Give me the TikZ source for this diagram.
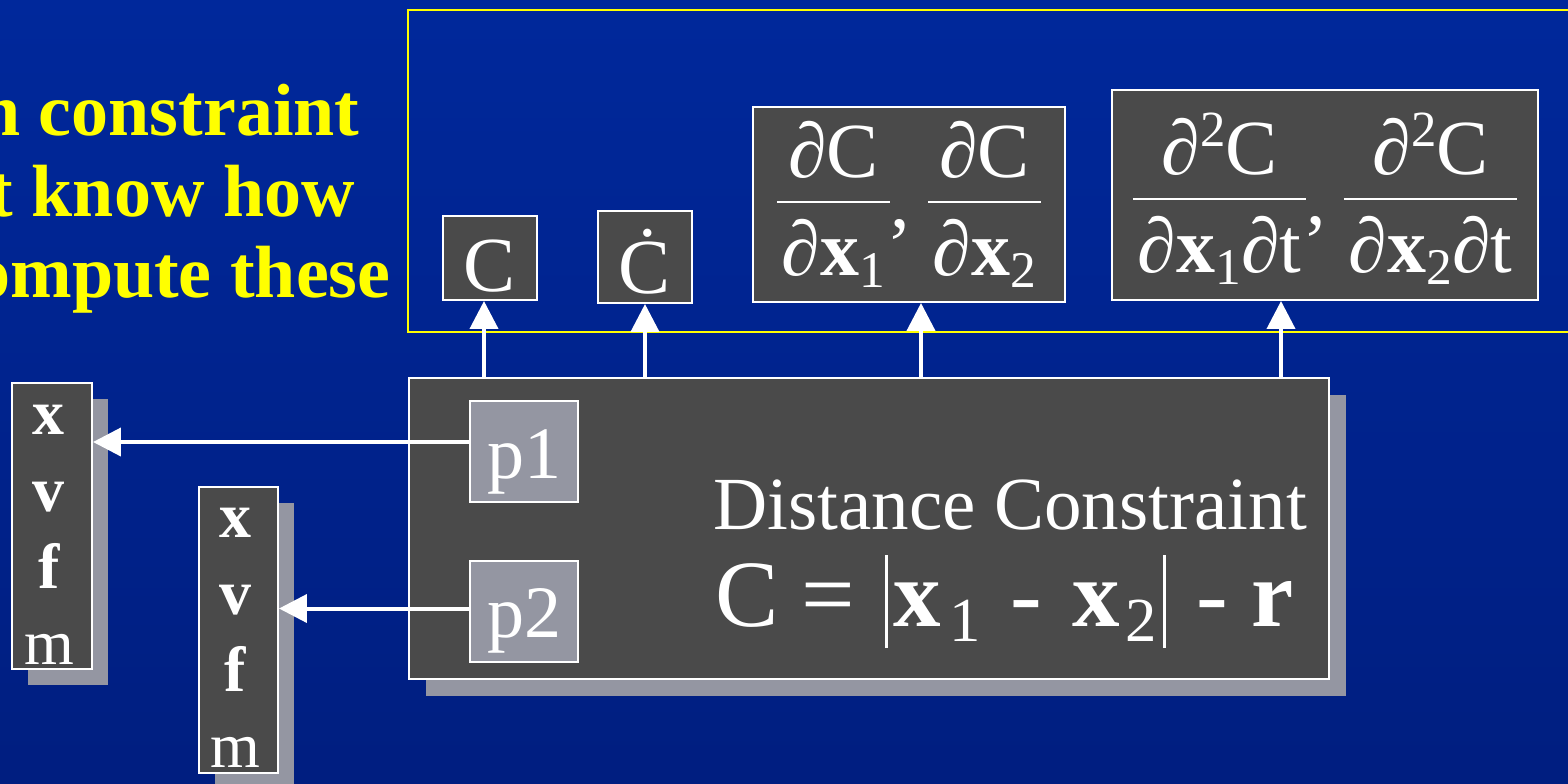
\documentclass[tikz,border=0pt]{standalone}
\usepackage{fontspec}
\setmainfont{Liberation Serif}
\usetikzlibrary{arrows.meta,shadows}

\newlength\px
\setlength\px{0.02cm}
\definecolor{bgtop}{RGB}{0,40,155}
\definecolor{bgbot}{RGB}{0,30,128}
\definecolor{boxgray}{RGB}{74,74,74}
\definecolor{shgray}{RGB}{148,150,162}
\definecolor{notey}{RGB}{255,255,0}

\newcommand{\bx}{\textbf{x}}
\newcommand{\sbs}[1]{\raisebox{-0.16em}{\scalebox{0.66}{#1}}}
\newcommand{\sps}[1]{\raisebox{0.36em}{\scalebox{0.65}{#1}}}
\newcommand{\pfrac}[2]{{\renewcommand\arraystretch{0}\setlength\arrayrulewidth{2.5\px}%
  \begin{tabular}[b]{@{\hspace{5\px}}c@{\hspace{5\px}}}\rule[-23\px]{0pt}{23\px}#1\\\hline\rule{0pt}{72\px}#2\end{tabular}}}
\newcommand{\fcomma}{\raisebox{48\px}{,}}
\newcommand{\vbar}{\rule[-22\px]{3\px}{93\px}}

\begin{document}
\begin{tikzpicture}[
    x=0.02cm, y=-0.02cm,
    outframe/.style={draw=notey, line width=0.04cm, inner sep=0pt},
    notetext/.style={text=notey, inner sep=0pt, anchor=base east,
      font=\bfseries\fontsize{74\px}{81\px}\selectfont},
    outbox/.style={draw=white, line width=0.04cm, fill=boxgray, text=white,
      inner sep=0pt, anchor=base, font=\fontsize{78\px}{94\px}\selectfont},
    mainbox/.style={draw=white, line width=0.04cm, fill=boxgray, inner sep=0pt,
      drop shadow={shadow xshift=0.34cm, shadow yshift=-0.34cm, fill=shgray, opacity=1}},
    portbox/.style={draw=white, line width=0.04cm, fill=shgray, text=white,
      inner sep=0pt, anchor=base, font=\fontsize{74\px}{88\px}\selectfont},
    dtext/.style={text=white, inner sep=0pt, anchor=base},
    statebox/.style={draw=white, line width=0.04cm, fill=boxgray, inner sep=0pt,
      drop shadow={shadow xshift=0.32cm, shadow yshift=-0.32cm, fill=shgray, opacity=1}},
    statetext/.style={text=white, align=center, inner sep=0pt,
      font=\fontsize{64\px}{76.7\px}\selectfont},
    arrow/.style={white, line width=0.08cm, -{Triangle[length=0.56cm, width=0.56cm]}}
  ]
  \useasboundingbox (0,0) rectangle (1568,784);
  \clip (0,0) rectangle (1568,784);
  \shade[top color=bgtop, bottom color=bgbot] (0,0) rectangle (1568,784);

  % what every constraint has to deliver
  \node[outframe, minimum width=23.7cm, minimum height=6.44cm] (outs) at (1000,171) {};
  \node[notetext] (note1) at (360,135) {n constraint};
  \node[notetext] (note2) at (355,216) {t know how};
  \node[notetext] (note3) at (391,297) {ompute these};

  \node[outbox, minimum width=1.88cm, text height=1.5cm, text depth=0.18cm] (cval) at (490,291) {C};
  \node[outbox, minimum width=1.88cm, text height=1.64cm, text depth=0.2cm] (cdot) at (645,293) {Ċ};
  \node[outbox, minimum width=6.24cm, text height=3.36cm, text depth=0.54cm] (jac) at (909,275)
    {\pfrac{∂C}{∂\bx\sbs{1}}\fcomma\hspace{18\px}\pfrac{∂C}{∂\bx\sbs{2}}};
  \node[outbox, minimum width=8.52cm, text height=3.64cm, text depth=0.56cm] (jdot) at (1325,272)
    {\pfrac{∂\sps{2}C}{∂\bx\sbs{1}∂t}\fcomma\hspace{18\px}\pfrac{∂\sps{2}C}{∂\bx\sbs{2}∂t}};

  % the constraint itself
  \node[mainbox, minimum width=18.4cm, minimum height=6.02cm] (dist) at (869,528.5) {};
  \node[portbox, minimum width=2.16cm, text height=1.54cm, text depth=0.48cm] (p1) at (524,478) {p1};
  \node[portbox, minimum width=2.16cm, text height=1.52cm, text depth=0.5cm] (p2) at (524,637) {p2};
  \node[dtext, font=\fontsize{75\px}{90\px}\selectfont] (dname) at (1010,529) {Distance Constraint};
  \node[dtext, font=\fontsize{95\px}{114\px}\selectfont] (dform) at (1005,626)
    {C\hspace{22\px}=\hspace{30\px}\vbar\hspace{6\px}\bx\hspace{8\px}\sbs{1}\hspace{30\px}-\hspace{30\px}\bx\hspace{6\px}\sbs{2}\hspace{6\px}\vbar\hspace{30\px}-\hspace{24\px}\textbf{r}};

  % particles
  \node[statebox, minimum width=1.6cm, minimum height=5.72cm] (part1) at (52,526) {};
  \node[statetext] (vars1) at ([shift={(-3,9)}]part1.center) {\textbf{x}\\\textbf{v}\\\textbf{f}\\m};
  \node[statebox, minimum width=1.58cm, minimum height=5.72cm] (part2) at (238.5,630) {};
  \node[statetext] (vars2) at ([shift={(-3,8)}]part2.center) {\textbf{x}\\\textbf{v}\\\textbf{f}\\m};

  \draw[arrow] ([xshift=-0.12cm]cval.south |- dist.north) -- ([xshift=-0.12cm]cval.south);
  \draw[arrow] (cdot.south |- dist.north) -- (cdot.south);
  \draw[arrow] ([xshift=0.24cm]jac.south |- dist.north) -- ([xshift=0.24cm]jac.south);
  \draw[arrow] ([xshift=-0.88cm]jdot.south |- dist.north) -- ([xshift=-0.88cm]jdot.south);
  \draw[arrow] ([yshift=0.19cm]p1.west) -- ([yshift=0.19cm]p1.west -| part1.east);
  \draw[arrow] ([yshift=0.06cm]p2.west) -- ([yshift=0.06cm]p2.west -| part2.east);
\end{tikzpicture}
\end{document}
